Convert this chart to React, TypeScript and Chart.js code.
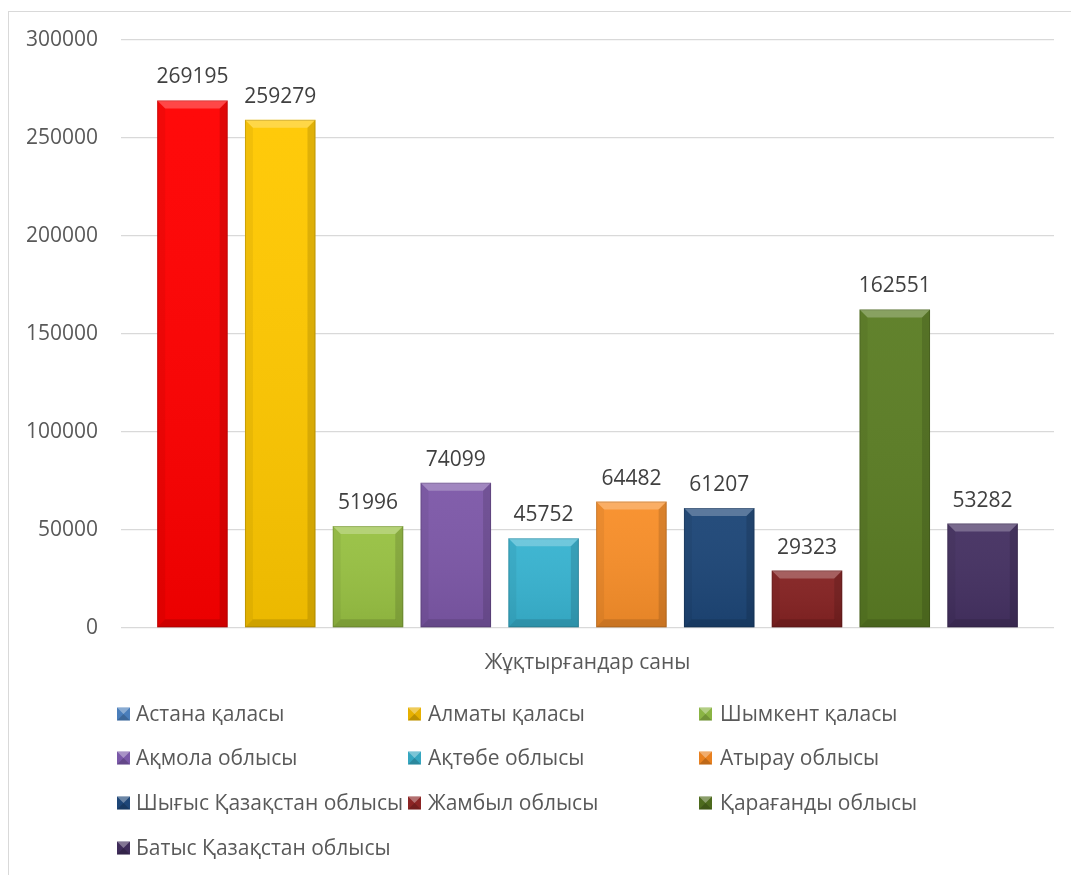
import React, { useEffect, useRef } from "react";
import { Chart, registerables } from "chart.js";

Chart.register(...registerables);

const categories = ["Жұқтырғандар саны"];
const seriesNames = [
  "Астана қаласы",
  "Алматы қаласы",
  "Шымкент қаласы",
  "Ақмола облысы",
  "Ақтөбе облысы",
  "Атырау облысы",
  "Шығыс Қазақстан облысы",
  "Жамбыл облысы",
  "Қарағанды облысы",
  "Батыс Қазақстан облысы",
];
const seriesValues = [269195, 259279, 51996, 74099, 45752, 64482, 61207, 29323, 162551, 53282];
const barColors = [
  "#ff0000",
  "#ffc800",
  "#98c143",
  "#7d58a8",
  "#38b3d0",
  "#f88f2a",
  "#1d4677",
  "#842222",
  "#5b7d24",
  "#453162",
];
const legendColors = [
  "#4a7ebb",
  "#e6b000",
  "#8ab444",
  "#7a58a8",
  "#35a6c0",
  "#e8801f",
  "#1d4677",
  "#8b2424",
  "#4d6a1d",
  "#3f2c5a",
];
const yTicks = [0, 50000, 100000, 150000, 200000, 250000, 300000];

const FONT = "'Open Sans', 'Noto Sans', sans-serif";

const bevelPlugin = {
  id: "bevel",
  afterDatasetsDraw(chart: any) {
    const ctx = chart.ctx;
    chart.data.datasets.forEach((_: any, di: number) => {
      const meta = chart.getDatasetMeta(di);
      meta.data.forEach((bar: any) => {
        const { x, y, base, width } = bar.getProps(["x", "y", "base", "width"], true);
        const l = x - width / 2;
        const r = x + width / 2;
        const t = Math.min(y, base);
        const b = Math.max(y, base);
        const bv = 8;
        ctx.save();
        const g = ctx.createLinearGradient(0, t, 0, b);
        g.addColorStop(0, "rgba(255,255,255,0.04)");
        g.addColorStop(1, "rgba(0,0,0,0.08)");
        ctx.fillStyle = g;
        ctx.fillRect(l, t, r - l, b - t);
        ctx.fillStyle = "rgba(255,255,255,0.25)";
        ctx.beginPath();
        ctx.moveTo(l, t);
        ctx.lineTo(r, t);
        ctx.lineTo(r - bv, t + bv);
        ctx.lineTo(l + bv, t + bv);
        ctx.closePath();
        ctx.fill();
        ctx.fillStyle = "rgba(0,0,0,0.05)";
        ctx.beginPath();
        ctx.moveTo(l, t);
        ctx.lineTo(l + bv, t + bv);
        ctx.lineTo(l + bv, b - bv);
        ctx.lineTo(l, b);
        ctx.closePath();
        ctx.fill();
        ctx.fillStyle = "rgba(0,0,0,0.12)";
        ctx.beginPath();
        ctx.moveTo(r, t);
        ctx.lineTo(r - bv, t + bv);
        ctx.lineTo(r - bv, b - bv);
        ctx.lineTo(r, b);
        ctx.closePath();
        ctx.fill();
        ctx.fillStyle = "rgba(0,0,0,0.12)";
        ctx.beginPath();
        ctx.moveTo(l, b);
        ctx.lineTo(r, b);
        ctx.lineTo(r - bv, b - bv);
        ctx.lineTo(l + bv, b - bv);
        ctx.closePath();
        ctx.fill();
        ctx.strokeStyle = "rgba(0,0,0,0.15)";
        ctx.lineWidth = 1;
        ctx.strokeRect(l + 0.5, t + 0.5, r - l - 1, b - t - 1);
        ctx.restore();
      });
    });
  },
};

const valueLabelPlugin = {
  id: "valueLabels",
  afterDatasetsDraw(chart: any) {
    const ctx = chart.ctx;
    ctx.save();
    ctx.font = `21px ${FONT}`;
    ctx.fillStyle = "#404040";
    ctx.textAlign = "center";
    ctx.textBaseline = "alphabetic";
    chart.data.datasets.forEach((ds: any, di: number) => {
      const meta = chart.getDatasetMeta(di);
      meta.data.forEach((bar: any, i: number) => {
        const v = ds.data[i];
        ctx.fillText(String(v), bar.x, bar.y - 17);
      });
    });
    ctx.restore();
  },
};

const gridLegendPlugin = {
  id: "gridLegend",
  afterDraw(chart: any) {
    const ctx = chart.ctx;
    const colIcon = [108, 399, 690];
    const colText = [127, 419, 711];
    const rowY = [702, 746, 791, 836];
    const sz = 13;
    ctx.save();
    ctx.font = `21px ${FONT}`;
    ctx.textBaseline = "middle";
    ctx.textAlign = "left";
    chart.data.datasets.forEach((ds: any, i: number) => {
      const c = i % 3;
      const r = Math.floor(i / 3);
      const x = colIcon[c];
      const y = rowY[r];
      ctx.fillStyle = legendColors[i];
      ctx.fillRect(x, y - sz / 2, sz, sz);
      ctx.fillStyle = "rgba(255,255,255,0.35)";
      ctx.beginPath();
      ctx.moveTo(x, y - sz / 2);
      ctx.lineTo(x + sz, y - sz / 2);
      ctx.lineTo(x + sz / 2, y);
      ctx.closePath();
      ctx.fill();
      ctx.fillStyle = "rgba(0,0,0,0.18)";
      ctx.beginPath();
      ctx.moveTo(x, y + sz / 2);
      ctx.lineTo(x + sz, y + sz / 2);
      ctx.lineTo(x + sz / 2, y);
      ctx.closePath();
      ctx.fill();
      ctx.fillStyle = "#595959";
      ctx.fillText(ds.label, colText[c], y + 1);
    });
    ctx.restore();
  },
};

export default function App() {
  const ref = useRef<HTMLCanvasElement | null>(null);

  useEffect(() => {
    if (!ref.current) return;
    const chart = new Chart(ref.current, {
      type: "bar",
      data: {
        labels: categories,
        datasets: seriesNames.map((name, i) => ({
          label: name,
          data: [seriesValues[i]],
          backgroundColor: barColors[i],
          borderWidth: 0,
          categoryPercentage: 0.941,
          barPercentage: 0.803,
        })),
      },
      options: {
        responsive: false,
        animation: false,
        layout: { padding: { left: 0, right: 17, top: 28, bottom: 187 } },
        plugins: {
          legend: { display: false },
          tooltip: { enabled: false },
          title: { display: false },
        },
        scales: {
          x: {
            grid: { display: false, drawTicks: false },
            border: { display: false },
            ticks: {
              color: "#595959",
              font: { family: FONT, size: 21 },
              padding: 22,
            },
            afterFit: (s: any) => {
              s.height = 60;
              s.paddingLeft = 0;
              s.paddingRight = 0;
            },
          },
          y: {
            min: 0,
            max: 300000,
            afterBuildTicks: (s: any) => {
              s.ticks = yTicks.map((v) => ({ value: v }));
            },
            grid: { color: "#d9d9d9", lineWidth: 1.3, drawTicks: false },
            border: { display: false },
            ticks: {
              color: "#595959",
              font: { family: FONT, size: 21 },
              padding: 23,
              callback: (v: any) => String(v),
            },
            afterFit: (s: any) => {
              s.width = 112;
              s.paddingTop = 0;
              s.paddingBottom = 0;
            },
          },
        },
      },
      plugins: [bevelPlugin, valueLabelPlugin, gridLegendPlugin],
    });
    return () => chart.destroy();
  }, []);

  return (
    <div
      style={{
        position: "absolute",
        left: 8,
        top: 11,
        width: 1063,
        height: 864,
        borderTop: "1px solid #d9d9d9",
        borderLeft: "1px solid #d9d9d9",
        boxSizing: "border-box",
        overflow: "hidden",
        background: "#fff",
      }}
    >
      <canvas ref={ref} width={1062} height={863} style={{ display: "block" }} />
    </div>
  );
}
